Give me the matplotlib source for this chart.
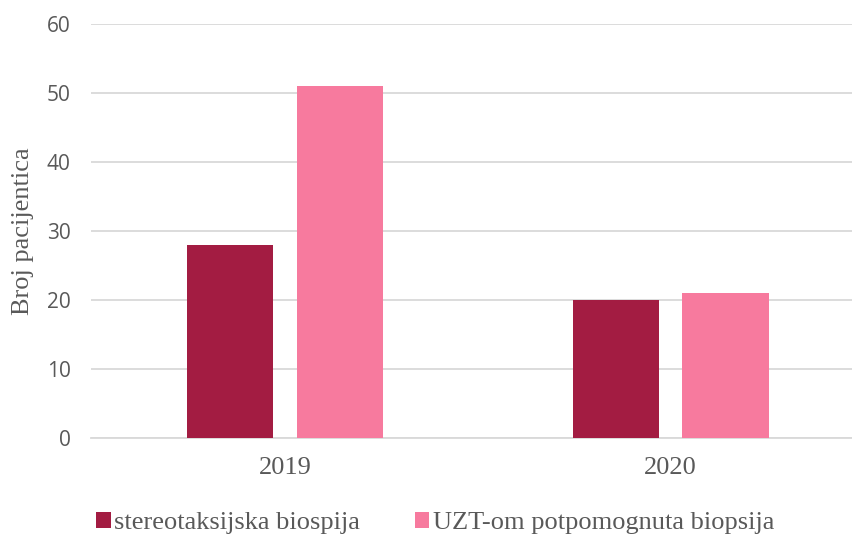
import matplotlib.pyplot as plt
import numpy as np

years = ['2019', '2020']
stereo = [28, 20]
uzt = [51, 21]
series_names = ['stereotaksijska biospija', 'UZT-om potpomognuta biopsija']
yticks = [0, 10, 20, 30, 40, 50, 60]

dark = '#A31C42'
pink = '#F77A9E'
grey = '#595959'

fig = plt.figure(figsize=(8.52, 5.38), dpi=100)
ax = fig.add_axes([91 / 852, 100 / 538, 1 - 91 / 852, 414 / 538])

x = np.arange(len(years))
w = 0.224
off = 0.142
ax.bar(x - off, stereo, w, color=dark, label=series_names[0], zorder=3)
ax.bar(x + off, uzt, w, color=pink, label=series_names[1], zorder=3)

ax.set_ylim(0, 60)
ax.set_xlim(-0.503, 1.47)
ax.set_yticks(yticks)
ax.yaxis.grid(True, color='#d9d9d9', linewidth=1.3, zorder=0)
ax.set_axisbelow(True)
for s in ['top', 'right', 'left']:
    ax.spines[s].set_visible(False)
ax.spines['bottom'].set_color('#d9d9d9')
ax.spines['bottom'].set_linewidth(1.3)
ax.tick_params(length=0)
ax.set_yticklabels([str(t) for t in yticks], fontsize=15, color=grey, family='Open Sans')
ax.tick_params(axis='y', pad=14.5)
ax.set_xticks(x)
ax.set_xticklabels(years, fontsize=19, color=grey, family='Liberation Serif')
ax.tick_params(axis='x', pad=14)
ax.set_ylabel('Broj pacijentica', fontsize=19, color=grey, family='Liberation Serif')
ax.yaxis.set_label_coords(-0.075, 0.5)

leg = fig.legend(loc='center left', bbox_to_anchor=(96 / 852, 15 / 538), ncol=2, frameon=False,
                 prop={'family': 'Liberation Serif', 'size': 19},
                 handlelength=0.55, handleheight=0.55, handletextpad=0.12,
                 columnspacing=2.1, borderaxespad=0, borderpad=0)
for t in leg.get_texts():
    t.set_color(grey)

plt.savefig('out.png')
plt.close()
